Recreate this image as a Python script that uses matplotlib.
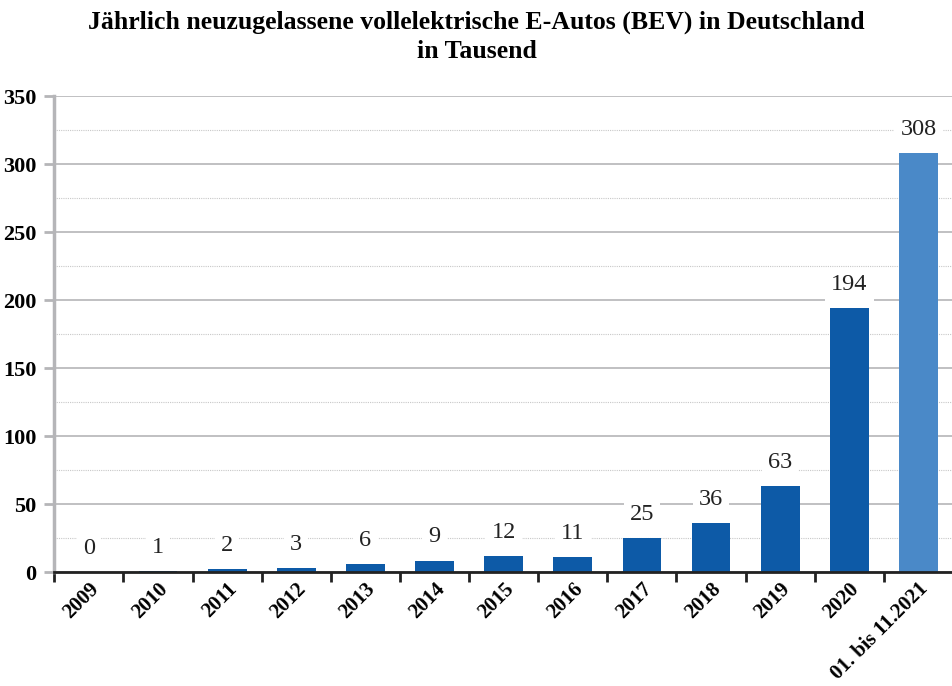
import numpy as np
import matplotlib.pyplot as plt

# Data
years = ['2009', '2010', '2011', '2012', '2013', '2014', '2015', '2016',
         '2017', '2018', '2019', '2020', '01. bis 11.2021']
values = [0.2, 0.5, 2, 3, 6, 8.5, 12, 11, 25, 36, 63, 194, 308]
labels = ['0', '1', '2', '3', '6', '9', '12', '11', '25', '36', '63', '194', '308']

dark = '#0D5AA7'
light = '#4A89C8'
colors = [dark] * (len(years) - 1) + [light]

plt.rcParams['font.family'] = ['Liberation Serif', 'DejaVu Serif']

fig = plt.figure(figsize=(9.53, 6.86), dpi=100)
ax = fig.add_axes([0.057, 0.166, 0.943, 0.694])

x = np.arange(len(years))
ax.bar(x, values, width=0.56, color=colors, zorder=3)

for xi, v, lab in zip(x, values, labels):
    ax.annotate(lab, (xi, v), xytext=(0, 17), textcoords='offset points',
                ha='center', va='center', fontsize=17.5, color='#222222',
                bbox=dict(boxstyle='square,pad=0.25', fc='white', ec='none'),
                zorder=4)

ax.set_xlim(-0.5, len(years) - 0.5)
ax.set_ylim(0, 350)
ax.set_yticks(np.arange(0, 351, 50))
ax.set_yticks(np.arange(25, 350, 50), minor=True)
ax.grid(axis='y', which='major', color='#b5b5b8', linewidth=1.2, zorder=0)
ax.grid(axis='y', which='minor', color='#c8c8c8', linewidth=0.8,
        linestyle=(0, (1, 1)), zorder=0)

ax.set_xticks(x)
ax.set_xticklabels(years, rotation=45, ha='right', rotation_mode='anchor',
                   fontsize=15, fontweight='bold')
ax.set_xticks(np.arange(-0.5, len(years), 1), minor=True)
ax.tick_params(axis='x', which='major', length=0, pad=5)
ax.tick_params(axis='x', which='minor', length=7, width=2, color='#222222',
               direction='out')
ax.tick_params(axis='y', which='major', length=7, width=2, color='#b5b5b8',
               labelsize=16, pad=6)
ax.tick_params(axis='y', which='minor', length=0)
for t in ax.get_yticklabels():
    t.set_fontweight('bold')

ax.spines['top'].set_visible(False)
ax.spines['right'].set_visible(False)
ax.spines['left'].set_color('#b5b5b8')
ax.spines['left'].set_linewidth(2.5)
ax.spines['bottom'].set_color('#222222')
ax.spines['bottom'].set_linewidth(2)
ax.spines['bottom'].set_zorder(5)

fig.suptitle('Jährlich neuzugelassene vollelektrische E-Autos (BEV) in Deutschland\nin Tausend',
             x=0.5, y=0.985, fontsize=18.5, fontweight='bold', linespacing=1.35)

fig.savefig('out.png', dpi=100)
